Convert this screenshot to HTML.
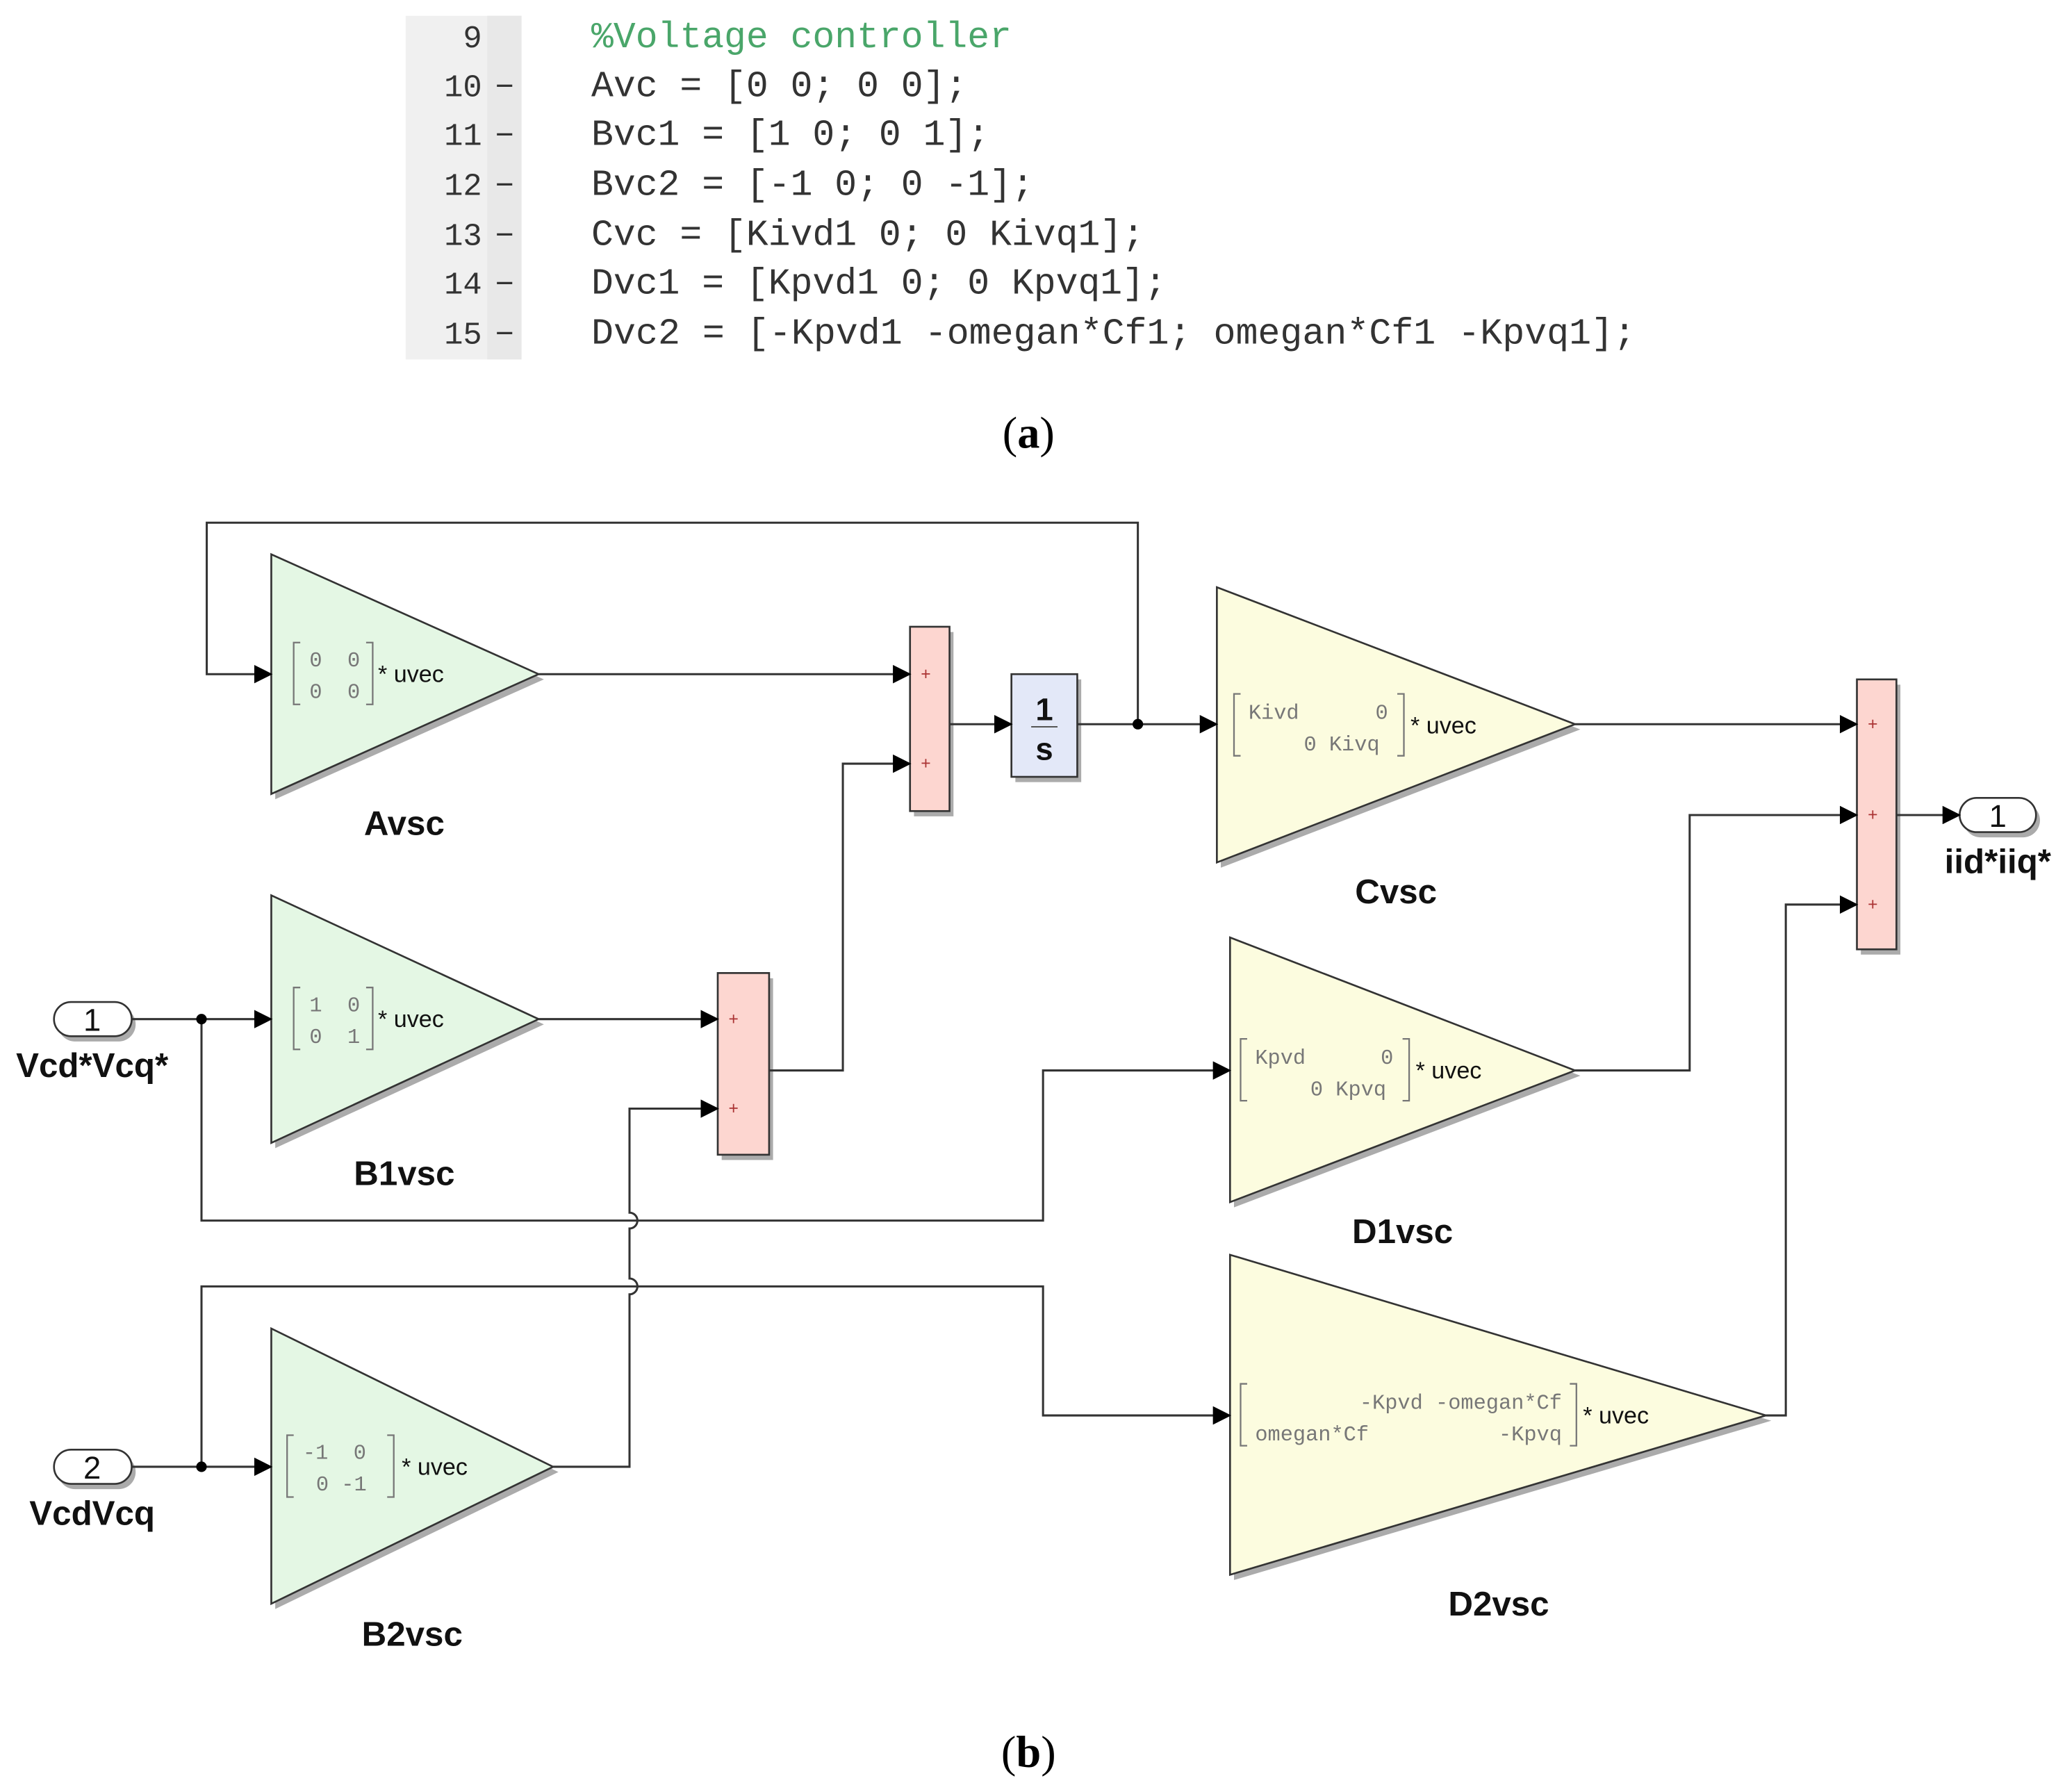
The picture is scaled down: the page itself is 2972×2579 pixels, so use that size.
<!DOCTYPE html>
<html><head><meta charset="utf-8"><style>
html,body{margin:0;padding:0;background:#fff;}
svg{display:block;}
text{white-space:pre;}
.code{font-family:"Liberation Mono",monospace;font-size:28px;fill:#333;}
.ln{font-family:"Liberation Mono",monospace;font-size:24px;fill:#333;}
.lbl{font-family:"Liberation Sans",sans-serif;font-weight:bold;font-size:25px;fill:#111;}
.mx{font-family:"Liberation Mono",monospace;font-size:16px;fill:#777;}
.uv{font-family:"Liberation Sans",sans-serif;font-size:18px;fill:#111;}
.w{stroke:#333;stroke-width:1.6;fill:none;}
.pl{font-family:"Liberation Sans",sans-serif;font-size:13px;fill:#a33;}
</style></head><body>
<svg width="2972" height="2579" viewBox="0 0 1568 1361" preserveAspectRatio="none" xmlns="http://www.w3.org/2000/svg" xml:space="preserve">
<defs>
<marker id="a" markerWidth="14" markerHeight="14" refX="13" refY="7" orient="auto" markerUnits="userSpaceOnUse"><path d="M0,0 L14,7 L0,14 z" fill="#000"/></marker>
</defs>
<rect x="308" y="12" width="88" height="261" fill="#f0f0f0"/>
<rect x="370" y="12" width="26" height="261" fill="#e8e8e8"/>
<g class="ln" text-anchor="end">
<text x="366" y="36">9</text><text x="366" y="73">10</text><text x="366" y="110">11</text><text x="366" y="148">12</text><text x="366" y="186">13</text><text x="366" y="223">14</text><text x="366" y="261">15</text>
</g>
<g class="ln"><text x="376" y="73">−</text><text x="376" y="110">−</text><text x="376" y="148">−</text><text x="376" y="186">−</text><text x="376" y="223">−</text><text x="376" y="261">−</text></g>
<g class="code">
<text x="449" y="36" style="fill:#4aa66a">%Voltage controller</text>
<text x="449" y="73">Avc = [0 0; 0 0];</text>
<text x="449" y="110">Bvc1 = [1 0; 0 1];</text>
<text x="449" y="148">Bvc2 = [-1 0; 0 -1];</text>
<text x="449" y="186">Cvc = [Kivd1 0; 0 Kivq1];</text>
<text x="449" y="223">Dvc1 = [Kpvd1 0; 0 Kpvq1];</text>
<text x="449" y="261" textLength="793" lengthAdjust="spacingAndGlyphs">Dvc2 = [-Kpvd1 -omegan*Cf1; omegan*Cf1 -Kpvq1];</text>
</g>
<text x="781" y="340" text-anchor="middle" style="font-family:'Liberation Serif',serif;font-size:34px">(<tspan font-weight="bold">a</tspan>)</text>
<text x="781" y="1342" text-anchor="middle" style="font-family:'Liberation Serif',serif;font-size:34px">(<tspan font-weight="bold">b</tspan>)</text>

<g fill="#888" opacity="0.7">
<polygon points="209,425 209,607 413,516"/>
<polygon points="209,684 209,872 413,778"/>
<polygon points="209,1013 209,1222 424,1118"/>
<polygon points="927,450 927,659 1200,554"/>
<polygon points="937,716 937,917 1200,817"/>
<polygon points="937,957 937,1200 1345,1079"/>
<rect x="694" y="480" width="30" height="140"/>
<rect x="548" y="743" width="39" height="138"/>
<rect x="1413" y="520" width="30" height="205"/>
<rect x="771" y="516" width="50" height="78"/>
<rect x="44" y="765" width="59" height="26" rx="13"/>
<rect x="44" y="1105" width="59" height="26" rx="13"/>
<rect x="1491" y="610" width="58" height="26" rx="13"/>
</g>
<g stroke="#333" stroke-width="1.4">
<polygon points="206,421 206,603 409,512" fill="#e4f7e4"/>
<polygon points="206,680 206,868 409,774" fill="#e4f7e4"/>
<polygon points="206,1009 206,1218 420,1114" fill="#e4f7e4"/>
<polygon points="924,446 924,655 1196,550" fill="#fcfcdf"/>
<polygon points="934,712 934,913 1196,813" fill="#fcfcdf"/>
<polygon points="934,953 934,1196 1341,1075" fill="#fcfcdf"/>
<rect x="691" y="476" width="30" height="140" fill="#fdd6d0"/>
<rect x="545" y="739" width="39" height="138" fill="#fdd6d0"/>
<rect x="1410" y="516" width="30" height="205" fill="#fdd6d0"/>
<rect x="768" y="512" width="50" height="78" fill="#e3e8f8"/>
<rect x="41" y="761" width="59" height="26" rx="13" fill="#fff"/>
<rect x="41" y="1101" width="59" height="26" rx="13" fill="#fff"/>
<rect x="1488" y="606" width="58" height="26" rx="13" fill="#fff"/>
</g>
<text x="793" y="547" text-anchor="middle" class="lbl" style="font-size:24px">1</text>
<line x1="783" y1="552" x2="803" y2="552" stroke="#555" stroke-width="1"/>
<text x="793" y="577" text-anchor="middle" class="lbl" style="font-size:24px">s</text>
<text x="70" y="783" text-anchor="middle" class="lbl" style="font-weight:normal;font-size:24px">1</text>
<text x="70" y="1123" text-anchor="middle" class="lbl" style="font-weight:normal;font-size:24px">2</text>
<text x="1517" y="628" text-anchor="middle" class="lbl" style="font-weight:normal;font-size:24px">1</text>
<g class="pl" text-anchor="middle">
<text x="703" y="516">+</text><text x="703" y="584">+</text>
<text x="557" y="778">+</text><text x="557" y="846">+</text>
<text x="1422" y="554">+</text><text x="1422" y="623">+</text><text x="1422" y="691">+</text>
</g>
<g class="lbl" text-anchor="middle" style="font-size:26px">
<text x="307" y="634">Avsc</text>
<text x="307" y="900">B1vsc</text>
<text x="313" y="1250">B2vsc</text>
<text x="1060" y="686">Cvsc</text>
<text x="1065" y="944">D1vsc</text>
<text x="1138" y="1227">D2vsc</text>
<text x="70" y="818">Vcd*Vcq*</text>
<text x="70" y="1158">VcdVcq</text>
<text x="1517" y="663">iid*iiq*</text>
</g>
<g stroke="#777" stroke-width="1.2" fill="none">
<path d="M228,488 h-5 v47 h5 M278,488 h5 v47 h-5"/>
<path d="M228,750 h-5 v47 h5 M278,750 h5 v47 h-5"/>
<path d="M223,1090 h-5 v47 h5 M294,1090 h5 v47 h-5"/>
<path d="M942,527 h-5 v47 h5 M1061,527 h5 v47 h-5"/>
<path d="M947,789 h-5 v47 h5 M1065,789 h5 v47 h-5"/>
<path d="M947,1051 h-5 v47 h5 M1192,1051 h5 v47 h-5"/>
</g>
<g class="mx">
<text x="235" y="506">0  0</text><text x="235" y="530">0  0</text>
<text x="235" y="768">1  0</text><text x="235" y="792">0  1</text>
<text x="230" y="1108">-1  0</text><text x="240" y="1132">0 -1</text>
<text x="948" y="546">Kivd</text><text x="1054" y="546" text-anchor="end">0</text>
<text x="990" y="570">0 Kivq</text>
<text x="953" y="808">Kpvd</text><text x="1058" y="808" text-anchor="end">0</text>
<text x="995" y="832">0 Kpvq</text>
<text x="1186" y="1070" text-anchor="end">-Kpvd -omegan*Cf</text>
<text x="953" y="1094">omegan*Cf</text><text x="1186" y="1094" text-anchor="end">-Kpvq</text>
</g>
<g class="uv">
<text x="287" y="518">* uvec</text><text x="287" y="780">* uvec</text><text x="305" y="1120">* uvec</text>
<text x="1071" y="557">* uvec</text><text x="1075" y="819">* uvec</text><text x="1202" y="1081">* uvec</text>
</g>
<g class="w">
<path d="M864,550 V397 H157 V512 H206" marker-end="url(#a)"/>
<path d="M409,512 H691" marker-end="url(#a)"/>
<path d="M721,550 H768" marker-end="url(#a)"/>
<path d="M818,550 H924" marker-end="url(#a)"/>
<path d="M1196,550 H1410" marker-end="url(#a)"/>
<path d="M1440,619 H1488" marker-end="url(#a)"/>
<path d="M100,774 H206" marker-end="url(#a)"/>
<path d="M409,774 H545" marker-end="url(#a)"/>
<path d="M584,813 H640 V580 H691" marker-end="url(#a)"/>
<path d="M153,774 V927 H792 V813 H934" marker-end="url(#a)"/>
<path d="M1196,813 H1283 V619 H1410" marker-end="url(#a)"/>
<path d="M100,1114 H206" marker-end="url(#a)"/>
<path d="M153,1114 V977 H792 V1075 H934" marker-end="url(#a)"/>
<path d="M1341,1075 H1356 V687 H1410" marker-end="url(#a)"/>
<path d="M420,1114 H478 V983 A6,6 0 0 0 478,971 V933 A6,6 0 0 0 478,921 V842 H545" marker-end="url(#a)"/>
</g>
<g fill="#000"><circle cx="864" cy="550" r="4"/><circle cx="153" cy="774" r="4"/><circle cx="153" cy="1114" r="4"/></g>
</svg>
</body></html>
